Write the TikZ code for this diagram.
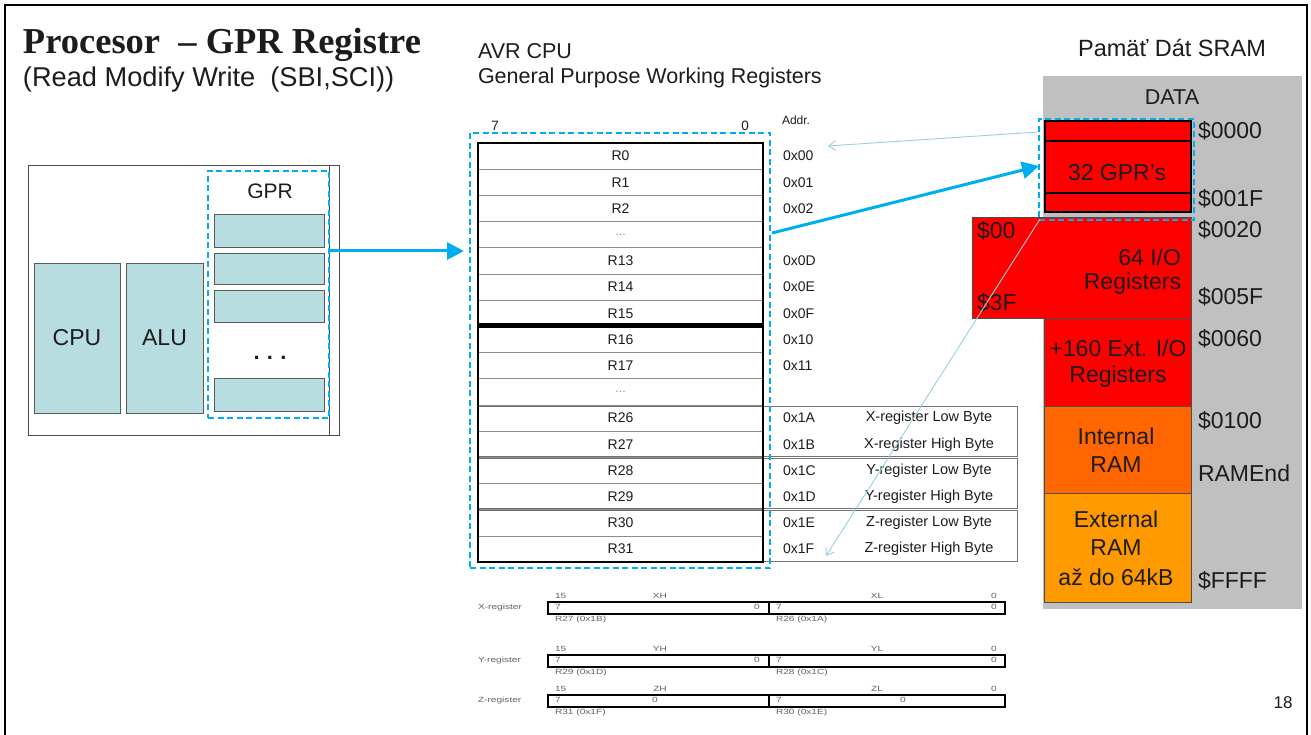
\documentclass[tikz,border=0pt]{standalone}
\usepackage{fontspec}
\setmainfont{Liberation Sans}
\newfontfamily\titlefont{Liberation Serif}
\usetikzlibrary{arrows.meta}

\definecolor{gprfill}{RGB}{183,221,224}
\definecolor{hiblue}{RGB}{0,174,239}
\definecolor{thinblue}{RGB}{150,208,220}
\definecolor{memred}{RGB}{255,0,0}
\definecolor{memorange}{RGB}{255,102,0}
\definecolor{memlight}{RGB}{255,153,0}
\definecolor{memgray}{RGB}{192,192,192}
\definecolor{txt}{RGB}{28,28,28}

\newcommand\fs[1]{\fontsize{#1}{#1}\selectfont}
\newcommand\hs[1]{\scalebox{1.35}[1]{#1}}
\newcommand\regdots{\textcolor{black!55}{\fs{11}\ldots}}

\begin{document}
\begin{tikzpicture}[x=1pt,y=-1pt,
  every node/.style={inner sep=0pt, outer sep=0pt, text=txt},
  box/.style={rectangle, anchor=north west, inner sep=0pt, outer sep=0pt},
  selbox/.style={box, draw=hiblue, line width=2.4pt, dash pattern=on 6pt off 3.5pt},
  unit/.style={box, draw=black!65, fill=gprfill, line width=0.9pt},
  regcell/.style={box, draw=black!45, line width=0.7pt, minimum width=285pt, minimum height=26.2pt, font=\fs{14}},
  regtxt/.style={font=\fs{14}},
  memblk/.style={box, draw=black!70, line width=0.8pt},
  memtxt/.style={font=\fs{23}},
  tinytxt/.style={font=\fs{7.5}, text=black!62},
  bigarrow/.style={draw=hiblue, line width=3pt, -{Triangle[length=17pt,width=17pt]}},
  thinarrow/.style={draw=thinblue, line width=0.9pt, -{Straight Barb[length=7pt,width=10pt]}}
]
\useasboundingbox (0,0) rectangle (1311,735);

% slide frame
\draw[line width=1.6pt, black] (5,740) -- (5,5) -- (1307,5) -- (1307,740);

% titles
\node[anchor=base west, font=\titlefont\bfseries\fs{36.5}] (title) at (23,54) {Procesor ~– GPR Registre};
\node[anchor=base west, font=\fs{27.2}] (subtitle) at (23,87) {(Read Modify Write~ (SBI,SCI))};
\node[anchor=base west, font=\fs{21.5}] (avr) at (478,59) {AVR CPU};
\node[anchor=base west, font=\fs{21.5}] (gpwr) at (478,84) {General Purpose Working Registers};
\node[anchor=base, font=\fs{23.5}] (sram) at (1172,57) {Pamäť Dát SRAM};

% ---------- processor block ----------
\node[box, draw=black!70, line width=0.9pt, minimum width=311pt, minimum height=270pt] (cpuframe) at (28,165) {};
\draw[black!70, line width=0.9pt] (329,165) -- (329,435);
\node[unit, minimum width=86pt, minimum height=150pt] (cpu) at (34,263) {};
\node[font=\fs{23}] at (cpu.center) {CPU};
\node[unit, minimum width=77pt, minimum height=150pt] (alu) at (126,263) {};
\node[font=\fs{23}] at (alu.center) {ALU};
\node[unit, minimum width=110pt, minimum height=33pt] (g1) at (214,214) {};
\node[unit, minimum width=110pt, minimum height=31pt] (g2) at (214,253) {};
\node[unit, minimum width=110pt, minimum height=32pt] (g3) at (214,290) {};
\node[unit, minimum width=110pt, minimum height=33pt] (g4) at (214,378) {};
\node[font=\bfseries\fs{22}] (gdots) at (270,358) {.\,\,.\,\,.};
\node[font=\fs{21}] (gprlab) at (270,191) {GPR};
\node[selbox, minimum width=121pt, minimum height=247pt] (gprsel) at (208,171) {};

% ---------- register file ----------
\node[font=\fs{13.5}] (bit7) at (495,126) {7};
\node[font=\fs{13.5}] (bit0) at (745,126) {0};
\node[anchor=west, font=\fs{12}] (addr) at (782,120) {Addr.};

\foreach \lab/\adr [count=\i from 0] in
  {R0/0x00, R1/0x01, R2/0x02, \regdots/, R13/0x0D, R14/0x0E, R15/0x0F,
   R16/0x10, R17/0x11, \regdots/, R26/0x1A, R27/0x1B, R28/0x1C, R29/0x1D, R30/0x1E, R31/0x1F}{
  \node[regcell] (r\i) at (478,{143+26.2*\i}) {\lab};
  \node[regtxt, anchor=west] (a\i) at ([xshift=20pt]r\i.east) {\adr};
}

% pointer register pairs
\foreach \k/\i in {X/10, Y/12, Z/14}{
  \draw[black!55, line width=0.9pt] (477,{143+26.2*\i+1}) rectangle (1017,{143+26.2*(\i+2)-1});
}
\foreach \i/\d in {10/X-register Low Byte, 11/X-register High Byte,
                   12/Y-register Low Byte, 13/Y-register High Byte,
                   14/Z-register Low Byte, 15/Z-register High Byte}{
  \node[regtxt, font=\fs{14.5}] (d\i) at (929,{143+26.2*(\i+0.5)}) {\d};
}
\draw[black, line width=2.8pt] (478,143) rectangle (763,324.2);
\draw[black, line width=2.8pt] (478,327) rectangle (763,562);
\node[selbox, minimum width=300pt, minimum height=435pt] (regsel) at (470,133) {};

% ---------- data memory map ----------
\node[box, fill=memgray, minimum width=259pt, minimum height=533pt] (datapanel) at (1043,76) {};
\node[font=\fs{21.5}] (datalab) at (1172,97) {DATA};

\node[memblk, fill=memred, minimum width=219pt, minimum height=101pt] (io64) at (972,217) {};
\node[memblk, fill=memred, minimum width=147pt, minimum height=88pt] (ext160) at (1044,318) {};
\node[memblk, fill=memorange, minimum width=147pt, minimum height=87pt] (intram) at (1044,406) {};
\node[memblk, fill=memlight, minimum width=147pt, minimum height=109pt] (extram) at (1044,493) {};
\node[box, draw=black, line width=2pt, fill=memred, minimum width=146pt, minimum height=91pt] (gprmem) at (1045,121) {};
\draw[black, line width=2pt] (1045,141) -- (1191,141) (1045,193) -- (1191,193);
\node[selbox, minimum width=155pt, minimum height=101pt] (memsel) at (1039,119) {};

\node[memtxt] (gprtxt) at (1117,173) {32 GPR's};
\node[memtxt, anchor=west] (io00) at (977,231) {\$00};
\node[memtxt, anchor=west] (io3f) at (977,303) {\$3F};
\node[memtxt, anchor=east] (io1) at (1181,257) {64 I/O};
\node[memtxt, anchor=east] (io2) at (1181,284) {Registers};
\node[memtxt] (e1) at (1118,348) {+160 Ext. I/O};
\node[memtxt] (e2) at (1118,377) {Registers};
\node[memtxt] (i1) at (1116,436) {Internal};
\node[memtxt] (i2) at (1116,465) {RAM};
\node[memtxt] (x1) at (1116,519) {External};
\node[memtxt] (x2) at (1116,548) {RAM};
\node[memtxt] (x3) at (1116,577) {až do 64kB};

\foreach \y/\t in {131/\$0000, 199/\$001F, 230/\$0020, 297/\$005F, 339/\$0060,
                   421/\$0100, 473/RAMEnd, 581/\$FFFF}{
  \node[memtxt, anchor=west] at (1198,\y) {\t};
}

% ---------- X / Y / Z pointer registers ----------
\foreach \n/\t/\rh/\hi/\rl/\lo/\lz/\rz in
  {X/602/27/1B/26/1A/757/994, Y/655/29/1D/28/1C/757/994, Z/695/31/1F/30/1E/655/903}{
  \node[tinytxt, anchor=west] (\n name) at (478,{\t+6}) {\hs{\n-register}};
  \node[box, draw=black, line width=2.2pt, minimum width=457pt, minimum height=12pt] (\n bar) at (548,\t) {};
  \draw[black, line width=2.2pt] (769,\t) -- (769,{\t+12});
  \node[tinytxt, anchor=west] at (555,{\t-6.5}) {\hs{15}};
  \node[tinytxt] at (660,{\t-6.5}) {\hs{\n H}};
  \node[tinytxt] at (877,{\t-6.5}) {\hs{\n L}};
  \node[tinytxt] at (994,{\t-6.5}) {\hs{0}};
  \node[tinytxt, anchor=west] at (555,{\t+5}) {\hs{7}};
  \node[tinytxt] at (\lz,{\t+5}) {\hs{0}};
  \node[tinytxt, anchor=west] at (776,{\t+5}) {\hs{7}};
  \node[tinytxt] at (\rz,{\t+5}) {\hs{0}};
  \node[tinytxt, anchor=west] at (555,{\t+18}) {\hs{R\rh\ (0x\hi)}};
  \node[tinytxt, anchor=west] at (776,{\t+18}) {\hs{R\rl\ (0x\lo)}};
}

% ---------- connectors ----------
\coordinate (gprout) at (329,251);
\coordinate (regin) at (464,251);
\draw[bigarrow] (gprout) -- (regin);

\coordinate (regout) at (772,233);
\coordinate (memin) at (1039,166);
\draw[bigarrow] (regout) -- (memin);

\coordinate (memtop) at (1038,132);
\coordinate (r0ptr) at (828,146);
\draw[thinarrow] (memtop) -- (r0ptr);

\coordinate (membot) at (1040,219);
\coordinate (r31ptr) at (826,556);
\draw[thinarrow] (membot) -- (r31ptr);

% page number
\node[font=\fs{17}] (pagenum) at (1283,703) {18};
\end{tikzpicture}
\end{document}
